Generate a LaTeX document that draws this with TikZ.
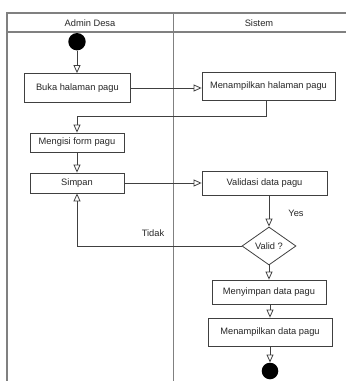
\documentclass[tikz,border=0pt]{standalone}
\usepackage{fontspec}
\setmainfont{Liberation Sans}
\usetikzlibrary{arrows.meta,shapes.geometric}
\begin{document}
\begin{tikzpicture}[x=1pt,y=-1pt,
  act/.style={draw=black!75, line width=0.8pt, fill=white, inner sep=0pt,
    font=\fontsize{9.3}{11}\selectfont, text=black!85},
  flow/.style={draw=black!75, line width=0.8pt, -{Triangle[open,length=8pt,width=7pt]}},
  lane/.style={draw=black!50, line width=1.4pt},
  lbl/.style={font=\fontsize{9.3}{11}\selectfont, text=black!85, inner sep=0pt},
  dot/.style={circle, fill=black, inner sep=0pt}]
\useasboundingbox (0,0) rectangle (346,381);
% swimlanes
\draw[lane] (346,13) -- (7,13) -- (7,381);
\draw[lane] (7,32) -- (346,32);
\draw[lane] (173.5,13) -- (173.5,381);
\node[lbl] (hAdmin) at (90,23) {Admin Desa};
\node[lbl] (hSistem) at (259,23) {Sistem};
% nodes
\node[dot, minimum size=17.4pt] (start) at (77,41.7) {};
\node[act, minimum width=106pt, minimum height=29pt] (buka) at (77.4,88) {Buka halaman pagu};
\node[act, minimum width=133pt, minimum height=28pt] (tampil) at (268.5,86) {Menampilkan halaman pagu};
\node[act, minimum width=94pt, minimum height=19pt] (isi) at (77,142.5) {Mengisi form pagu};
\node[act, minimum width=94pt, minimum height=20pt] (simpan) at (77,183) {Simpan};
\node[act, minimum width=125pt, minimum height=24pt] (validasi) at (264.5,183) {Validasi data pagu};
\node[act, diamond, minimum width=54pt, minimum height=38pt] (valid) at (269,246) {Valid ?};
\node[act, minimum width=114pt, minimum height=24pt] (menyimpan) at (269,292) {Menyimpan data pagu};
\node[act, minimum width=124pt, minimum height=28pt] (tampildata) at (270,332) {Menampilkan data pagu};
\node[dot, minimum size=16.6pt] (end) at (270,371) {};
% flows
\draw[flow] (start.south) -- (start.south |- buka.north);
\draw[flow] (buka.east) -- (buka.east -| tampil.west);
\draw[flow] ([xshift=-2.5pt]tampil.south) -- ++(0,16) -| (isi.north);
\draw[flow] (isi.south) -- (simpan.north);
\draw[flow] (simpan.east) -- (simpan.east -| validasi.west);
\draw[flow] (validasi.south -| valid.north) -- (valid.north);
\draw[flow] (valid.west) -| (simpan.south);
\draw[flow] (valid.south) -- (menyimpan.north);
\draw[flow] (menyimpan.south -| tampildata.north) -- (tampildata.north);
\draw[flow] (tampildata.south) -- (end.north);
% labels
\node[lbl] (yes) at (296,213) {Yes};
\node[lbl] (tidak) at (153,233) {Tidak};
\end{tikzpicture}
\end{document}
